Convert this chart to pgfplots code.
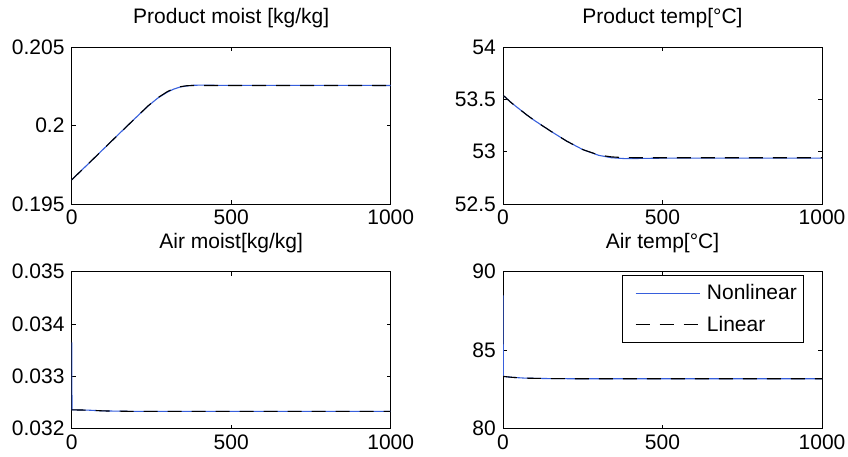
\documentclass[border=0pt]{standalone}
\usepackage{pgfplots}
\pgfplotsset{compat=1.18}
\usepackage{fontspec}
\setmainfont{Liberation Sans}
\definecolor{nlblue}{RGB}{55,95,220}
\newcommand{\bigf}{\fontsize{21}{25}\selectfont}
\pgfplotsset{
  mystyle/.style={
    scale only axis, width=319pt, height=157pt, anchor=south west,
    xmin=0, xmax=1000, xtick={0,500,1000}, xticklabels={0,500,1000},
    tick align=inside, major tick length=4pt,
    axis line style={line width=0.9pt},
    every tick/.style={black, line width=0.9pt},
    tick label style={font=\bigf, inner sep=0pt},
    xticklabel style={anchor=north, yshift=-6pt},
    yticklabel style={anchor=east, xshift=-7pt},
    title style={font=\bigf, anchor=base, at={(0.5,1)}, yshift=17pt, inner sep=0pt},
    scaled ticks=false,
    legend image code/.code={\path (-6.3pt,0pt); \draw[##1] (0pt,0pt) -- (64pt,0pt);},
  },
  nl/.style={draw=nlblue, color=nlblue, line width=1.1pt},
  li/.style={draw=black, line width=1.1pt, dash pattern=on 14pt off 10pt},
}
\begin{document}
\begin{tikzpicture}
\path[use as bounding box] (0,0) rectangle (848pt,456pt);
% Product moist
\begin{axis}[mystyle, at={(71.7pt,252pt)}, title={Product moist [kg/kg]},
  ymin=0.195, ymax=0.205, ytick={0.195,0.2,0.205}, yticklabels={0.195,0.2,0.205}]
\addplot[nl] table {
0 0.19654
50 0.19752
100 0.19851
150 0.19950
200 0.20048
240 0.20125
270 0.20175
300 0.20213
320 0.20232
340 0.20245
360 0.20252
380 0.20256
400 0.20257
450 0.20256
1000 0.20255
};
\addplot[li] table {
0 0.19654
50 0.19752
100 0.19851
150 0.19950
200 0.20048
240 0.20126
270 0.20177
300 0.20216
320 0.20235
340 0.20247
360 0.20253
380 0.20255
400 0.20255
1000 0.20255
};
\end{axis}
% Product temp
\begin{axis}[mystyle, at={(503pt,252pt)}, title={Product temp[°C]},
  ymin=52.5, ymax=54, ytick={52.5,53,53.5,54}, yticklabels={52.5,53,53.5,54}]
\addplot[nl] table {
0 53.54
25 53.47
50 53.41
75 53.35
100 53.295
150 53.195
200 53.10
250 53.02
300 52.965
340 52.942
380 52.934
420 52.935
500 52.938
1000 52.938
};
\addplot[li] table {
0 53.54
25 53.47
50 53.41
75 53.35
100 53.295
150 53.195
200 53.10
250 53.02
300 52.968
340 52.950
380 52.943
420 52.942
1000 52.942
};
\end{axis}
% Air moist
\begin{axis}[mystyle, at={(71.7pt,27.3pt)}, title={Air moist[kg/kg]},
  ymin=0.032, ymax=0.035, ytick={0.032,0.033,0.034,0.035}, yticklabels={0.032,0.033,0.034,0.035}]
\addplot[nl] table {
0 0.03365
1 0.03236
50 0.032355
100 0.03234
200 0.03233
1000 0.03233
};
\addplot[li] table {
0 0.03236
50 0.032355
100 0.03234
200 0.03233
1000 0.03233
};
\end{axis}
% Air temp
\begin{axis}[mystyle, at={(503pt,27.3pt)}, title={Air temp[°C]},
  ymin=80, ymax=90, ytick={80,85,90}, yticklabels={80,85,90},
  legend cell align=left,
  legend style={at={(1,1)}, anchor=north east, xshift=-18pt, yshift=-3.4pt,
    font=\bigf, draw=black, line width=0.9pt, inner xsep=6.7pt, inner ysep=1.7pt,
    row sep=0pt, column sep=6.7pt,
    nodes={inner sep=0pt, text height=22.5pt, text depth=9.2pt}}]
\addplot[nl] table {
0 88.5
1 83.33
30 83.27
70 83.22
150 83.19
250 83.18
1000 83.18
};
\addplot[li] table {
0 83.33
30 83.27
70 83.22
150 83.19
250 83.18
1000 83.18
};
\legend{Nonlinear,Linear}
\end{axis}
\end{tikzpicture}
\end{document}
